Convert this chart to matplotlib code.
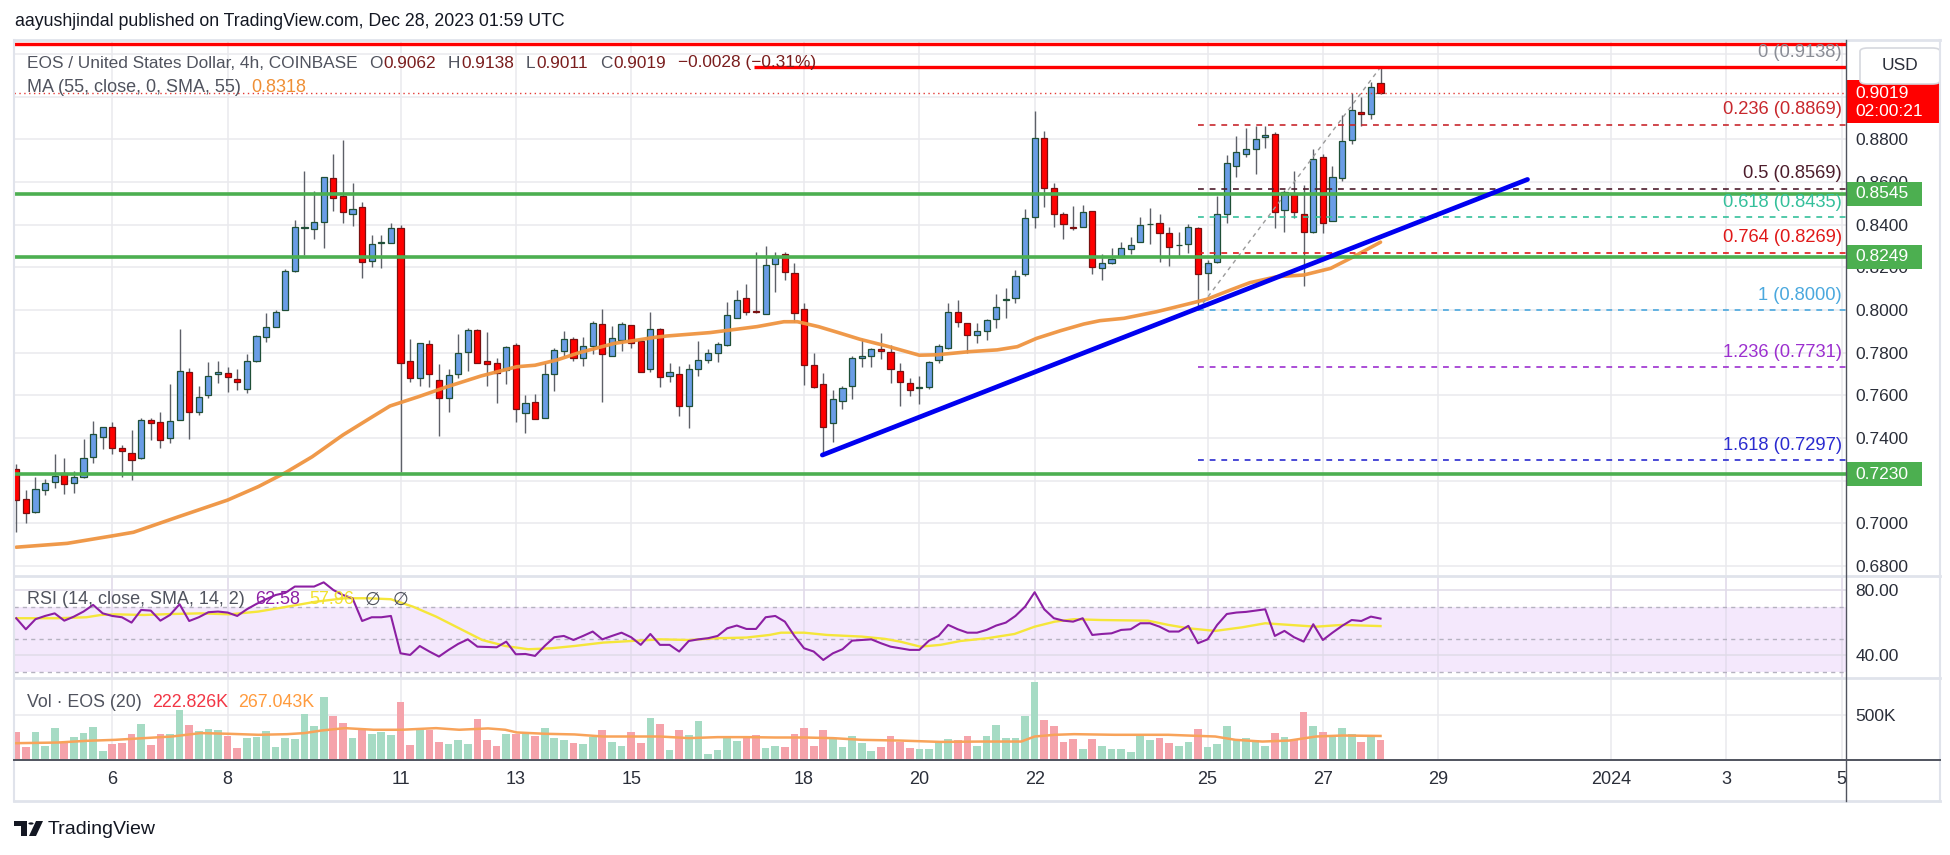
import matplotlib
matplotlib.use('Agg')
import matplotlib.pyplot as plt
import matplotlib.transforms as mtransforms
from matplotlib.patches import Rectangle, FancyBboxPatch, Polygon, Circle
from matplotlib.lines import Line2D
import numpy as np

plt.rcParams['font.family'] = ['Liberation Sans', 'DejaVu Sans']

# ---------------- data (4h candles, Dec 4 08:00 -> Dec 28 00:00) ----------------
opens = [0.7253,0.7113,0.7052,0.7156,0.7192,0.7238,0.7187,0.7216,0.7309,0.7406,
         0.7450,0.7352,0.7328,0.7305,0.7484,0.7473,0.7402,0.7484,0.7708,0.7520,
         0.7600,0.7698,0.7703,0.7675,0.7628,0.7763,0.7872,0.7919,0.8000,0.8183,
         0.8385,0.8378,0.8414,0.8617,0.8536,0.8448,0.8481,0.8231,0.8314,0.8313,
         0.8383,0.7763,0.7680,0.7839,0.7670,0.7586,0.7698,0.7802,0.7905,0.7759,
         0.7750,0.7719,0.7834,0.7516,0.7567,0.7492,0.7698,0.7809,0.7862,0.7773,
         0.7830,0.7933,0.7783,0.7858,0.7928,0.7853,0.7722,0.7909,0.7689,0.7698,
         0.7548,0.7725,0.7764,0.7797,0.7838,0.7961,0.8055,0.7992,0.7980,0.8214,
         0.8261,0.8172,0.8003,0.7741,0.7652,0.7469,0.7573,0.7644,0.7773,0.7786,
         0.7815,0.7802,0.7713,0.7656,0.7633,0.7637,0.7766,0.7820,0.7992,0.7941,
         0.7881,0.7900,0.7956,0.8047,0.8055,0.8167,0.8434,0.8805,0.8570,0.8448,
         0.8386,0.8391,0.8463,0.8195,0.8219,0.8250,0.8284,0.8317,0.8401,0.8409,
         0.8359,0.8303,0.8308,0.8383,0.8172,0.8227,0.8448,0.8677,0.8730,0.8753,
         0.8809,0.8823,0.8469,0.8550,0.8448,0.8367,0.8719,0.8416,0.8617,0.8795,
         0.8928,0.8917,0.9062]
highs = [0.7278,0.7156,0.7219,0.7206,0.7323,0.7305,0.7244,0.7395,0.7480,0.7452,
         0.7473,0.7366,0.7438,0.7492,0.7492,0.7522,0.7653,0.7911,0.7727,0.7644,
         0.7755,0.7761,0.7734,0.7723,0.7794,0.7881,0.7984,0.8000,0.8191,0.8422,
         0.8652,0.8558,0.8625,0.8731,0.8797,0.8594,0.8505,0.8352,0.8352,0.8406,
         0.8398,0.7864,0.7844,0.7859,0.7747,0.7722,0.7888,0.7917,0.7909,0.7895,
         0.7773,0.7833,0.7844,0.7602,0.7606,0.7750,0.7823,0.7902,0.7875,0.7875,
         0.7950,0.8005,0.7925,0.7945,0.7928,0.7853,0.7989,0.7917,0.7750,0.7738,
         0.7747,0.7855,0.7817,0.7848,0.8036,0.8094,0.8122,0.8273,0.8300,0.8273,
         0.8273,0.8222,0.8034,0.7800,0.7703,0.7625,0.7644,0.7786,0.7864,0.7823,
         0.7891,0.7836,0.7750,0.7680,0.7691,0.7761,0.7839,0.8031,0.8047,0.7941,
         0.7938,0.7958,0.8073,0.8102,0.8188,0.8472,0.8933,0.8839,0.8594,0.8458,
         0.8489,0.8492,0.8463,0.8262,0.8289,0.8317,0.8341,0.8434,0.8477,0.8448,
         0.8388,0.8364,0.8403,0.8388,0.8234,0.8536,0.8727,0.8816,0.8852,0.8864,
         0.8863,0.8836,0.8563,0.8652,0.8586,0.8753,0.8731,0.8675,0.8914,0.9016,
         0.9000,0.9070,0.9138]
lows = [0.6960,0.7003,0.7050,0.7131,0.7164,0.7136,0.7141,0.7213,0.7284,0.7347,
        0.7323,0.7219,0.7203,0.7303,0.7391,0.7355,0.7375,0.7484,0.7394,0.7508,
        0.7589,0.7659,0.7617,0.7625,0.7609,0.7755,0.7852,0.7919,0.8000,0.8180,
        0.8259,0.8333,0.8292,0.8464,0.8409,0.8395,0.8152,0.8203,0.8198,0.8313,
        0.7242,0.7664,0.7645,0.7641,0.7411,0.7523,0.7683,0.7714,0.7750,0.7645,
        0.7566,0.7652,0.7473,0.7422,0.7488,0.7492,0.7622,0.7784,0.7763,0.7739,
        0.7792,0.7567,0.7783,0.7809,0.7820,0.7711,0.7711,0.7638,0.7664,0.7505,
        0.7448,0.7692,0.7752,0.7755,0.7833,0.7961,0.7977,0.7984,0.7980,0.8083,
        0.8141,0.7945,0.7650,0.7633,0.7320,0.7383,0.7536,0.7581,0.7731,0.7733,
        0.7769,0.7656,0.7548,0.7598,0.7558,0.7628,0.7750,0.7816,0.7922,0.7797,
        0.7847,0.7859,0.7917,0.7961,0.8031,0.8161,0.8386,0.8484,0.8391,0.8333,
        0.8375,0.8391,0.8167,0.8141,0.8216,0.8250,0.8263,0.8317,0.8309,0.8227,
        0.8208,0.8255,0.8269,0.8000,0.8094,0.8219,0.8406,0.8622,0.8719,0.8638,
        0.8758,0.8386,0.8367,0.8430,0.8114,0.8359,0.8363,0.8416,0.8606,0.8778,
        0.8863,0.8895,0.9011]
closes = [0.7109,0.7047,0.7159,0.7188,0.7222,0.7183,0.7216,0.7305,0.7417,0.7450,
          0.7352,0.7338,0.7295,0.7484,0.7472,0.7389,0.7478,0.7713,0.7523,0.7594,
          0.7689,0.7708,0.7688,0.7664,0.7763,0.7877,0.7922,0.7992,0.8181,0.8388,
          0.8388,0.8411,0.8622,0.8523,0.8461,0.8472,0.8227,0.8308,0.8318,0.8383,
          0.7750,0.7680,0.7844,0.7698,0.7586,0.7695,0.7797,0.7905,0.7750,0.7745,
          0.7703,0.7825,0.7534,0.7563,0.7488,0.7698,0.7811,0.7862,0.7773,0.7830,
          0.7938,0.7792,0.7867,0.7933,0.7847,0.7711,0.7909,0.7688,0.7708,0.7548,
          0.7722,0.7764,0.7797,0.7839,0.7975,0.8047,0.7992,0.7990,0.8209,0.8255,
          0.8177,0.7984,0.7741,0.7641,0.7453,0.7581,0.7633,0.7773,0.7784,0.7816,
          0.7810,0.7722,0.7661,0.7623,0.7634,0.7755,0.7830,0.7989,0.7942,0.7881,
          0.7900,0.7952,0.8016,0.8052,0.8161,0.8433,0.8805,0.8570,0.8448,0.8402,
          0.8385,0.8461,0.8203,0.8219,0.8239,0.8289,0.8305,0.8397,0.8403,0.8359,
          0.8294,0.8305,0.8391,0.8167,0.8219,0.8448,0.8688,0.8739,0.8753,0.8800,
          0.8819,0.8458,0.8555,0.8458,0.8364,0.8706,0.8409,0.8625,0.8792,0.8936,
          0.8917,0.9044,0.9019]

# SMA 55 (candle index, value)
ma_idx = [0, 5.3, 10, 12.2, 16.9, 22, 25.2, 28, 30.8, 34, 36.8, 38.9, 41.9, 44.7, 48.4,
          52.1, 54, 56.3, 58.6, 62.3, 64.2, 66.5, 67.7, 72.2, 77.1, 79.9, 81.3, 83.5,
          85.5, 87.8, 90.6, 94, 95.8, 99.3, 102.1, 104.2, 106.2, 108.7, 111.1, 112.8,
          115.3, 118.7, 121.5, 123.9, 126.4, 128.4, 131.2, 134, 136.8, 139.2, 142]
ma_val = [0.6888, 0.6906, 0.6941, 0.6958, 0.7031, 0.7109, 0.7172, 0.7237, 0.7312, 0.7414,
          0.7492, 0.7550, 0.7594, 0.7638, 0.7691, 0.7734, 0.7741, 0.7766, 0.7800, 0.7844,
          0.7856, 0.7872, 0.7878, 0.7894, 0.7922, 0.7945, 0.7945, 0.7922, 0.7895, 0.7863,
          0.7831, 0.7788, 0.7790, 0.7805, 0.7813, 0.7828, 0.7867, 0.7903, 0.7934, 0.7950,
          0.7961, 0.7992, 0.8023, 0.8050, 0.8094, 0.8128, 0.8156, 0.8164, 0.8195, 0.8250,
          0.8318]

rsi = [62.8,56.0,62.2,64.2,65.8,61.3,63.8,66.9,71.0,65.8,
       64.2,63.4,60.1,67.9,67.5,61.3,64.8,71.4,61.1,63.4,
       66.5,66.9,66.3,64.2,68.3,71.6,74.5,77.1,78.4,82.3,
       82.3,82.3,84.9,80.2,77.1,75.1,61.1,63.4,63.4,64.2,
       41.2,40.2,45.7,42.3,39.2,43.3,47.0,49.8,45.3,45.1,
       44.9,48.4,40.6,40.8,39.6,45.7,51.1,51.9,49.4,51.9,
       54.6,49.8,51.9,53.9,51.1,46.4,53.1,46.4,46.4,42.3,
       48.8,49.8,50.5,51.9,56.6,58.3,56.2,56.2,63.4,64.2,
       60.7,51.9,44.3,42.3,37.1,41.2,43.7,49.0,49.4,49.8,
       47.4,45.3,44.3,43.3,43.3,49.0,51.9,58.7,56.0,53.9,
       53.9,55.6,58.3,60.1,64.2,69.9,78.8,68.3,62.8,61.3,
       60.7,62.8,52.5,53.1,53.5,55.6,56.0,59.7,59.7,57.6,
       54.6,54.6,58.1,47.4,49.8,58.7,65.4,66.3,66.7,67.5,
       68.3,51.9,55.0,51.1,48.4,59.1,49.4,53.9,58.1,61.7,
       61.1,63.8,62.58]
rsi_sma_idx = [0, 4.3, 7.3, 8.8, 10.3, 13.3, 16.2, 19.2, 22.2, 25.2, 28.2, 31.2, 34.2, 36.6,
               39.0, 41.3, 43.7, 46.1, 48.5, 50.9, 53.3, 55.7, 58.1, 61.1, 64.1, 67.1, 70.0,
               73.0, 76.0, 78.4, 79.6, 82.0, 84.4, 88.0, 90.4, 92.0, 94.1, 96.2, 98.3, 101.1,
               103.9, 106.0, 108.1, 110.1, 112.9, 117.8, 119.9, 122.0, 124.8, 127.6, 130.0,
               132.5, 135.3, 138.0, 142.0]
rsi_sma_val = [62.8, 62.8, 63.4, 64.8, 65.2, 64.8, 65.4, 65.8, 65.2, 66.9, 69.9, 73.0, 75.1, 75.1,
               74.5, 69.9, 63.8, 56.6, 49.4, 45.7, 43.7, 44.3, 45.7, 47.8, 48.8, 49.8, 49.4,
               50.5, 50.9, 52.5, 53.9, 53.9, 52.5, 51.5, 50.1, 48.4, 45.3, 46.4, 48.8, 50.5,
               53.1, 57.6, 60.7, 62.2, 61.7, 61.3, 58.7, 56.6, 55.0, 57.2, 59.7,
               58.7, 57.6, 58.7, 57.96]

volume_k = [313,146,313,157,358,194,257,302,369,101,
            183,194,291,403,168,291,291,556,392,325,
            347,336,269,134,246,257,321,146,246,235,
            515,381,705,493,414,246,340,291,313,280,
            646,168,336,336,201,179,224,179,459,224,
            157,291,291,302,269,358,246,224,190,179,
            250,336,201,157,313,190,470,403,112,336,
            280,437,67,112,269,213,246,280,134,157,
            146,291,358,157,336,246,146,269,190,101,
            146,269,205,138,123,123,194,235,224,269,
            157,269,392,246,246,485,862,448,381,201,
            235,123,235,157,123,123,90,272,224,246,
            190,157,201,347,146,179,381,235,246,224,
            157,302,257,224,537,381,313,269,358,291,
            201,269,223]
vol_ma_idx = [0, 4.3, 7.3, 10.3, 13.3, 16.2, 19.2, 22.2, 25.2, 28.2, 30.0, 31.8, 34.2, 37.2,
              40.1, 43.7, 46.1, 49.1, 50.9, 52.1, 55.1, 58.1, 61.1, 64.1, 67.0, 70.0, 73.0,
              76.0, 79.0, 82.0, 85.0, 88.0, 92.0, 96.2, 100.4, 104.6, 106.0, 108.1, 110.1,
              114.3, 119.9, 122.7, 124.8, 126.9, 129.7, 132.5, 135.3, 138.0, 142.0]
vol_ma_k = [187, 194, 213, 224, 243, 261, 299, 291, 280, 287, 299, 328, 354, 336,
            336, 354, 336, 351, 336, 306, 291, 284, 261, 261, 261, 243, 254,
            254, 250, 250, 243, 224, 216, 201, 205, 205, 261, 280, 287,
            280, 280, 269, 261, 224, 205, 216, 261, 272, 267]

tick_labels = ['6', '8', '11', '13', '15', '18', '20', '22', '25', '27', '29', '2024', '3', '5']
tick_days = [6, 8, 11, 13, 15, 18, 20, 22, 25, 27, 29, 32, 34, 36]   # days counted from Dec 1

price_ticks = [0.68, 0.70, 0.72, 0.74, 0.76, 0.78, 0.80, 0.82, 0.84, 0.86, 0.88, 0.90, 0.92]
hidden_price_labels = [0.72, 0.90, 0.92]   # covered by the tag boxes in the original

support_levels = [0.8545, 0.8249, 0.7230]
fib_ratios = ['0', '0.236', '0.5', '0.618', '0.764', '1', '1.236', '1.618']
fib_prices = [0.9138, 0.8869, 0.8569, 0.8435, 0.8269, 0.8000, 0.7731, 0.7297]
fib_colors = ['#8a8d96', '#c8282d', '#4d1d2c', '#35c09b', '#e01818', '#4aa8de', '#9c30cf', '#2b2bd0']
fib_start = 123
fib_anchor_idx = [123, 142]
fib_anchor_px = [0.8000, 0.9138]
trend_idx = [83.9, 157.3]
trend_px = [0.7320, 0.8612]
red_levels = [0.9247, 0.9138]
red_starts = [-0.3, 76.8]

# ---------------- layout ----------------
W, H = 1950, 855
fig = plt.figure(figsize=(W / 100, H / 100), dpi=100)
fig.patch.set_facecolor('white')

def fx(p):
    return p / W

def fy(p):
    return 1 - p / H

L, R = 14, 1846
T_MAIN, B_MAIN, B_RSI, B_VOL = 41, 576, 678, 760
ax = fig.add_axes([fx(L), fy(B_MAIN), (R - L) / W, (B_MAIN - T_MAIN) / H])
ax_r = fig.add_axes([fx(L), fy(B_RSI), (R - L) / W, (B_RSI - B_MAIN) / H])
ax_v = fig.add_axes([fx(L), fy(B_VOL), (R - L) / W, (B_VOL - B_RSI) / H])

XMIN, XMAX = -0.234, 190.45
grid_c = '#e9e9ee'
txt_c = '#2a2e39'
grey_c = '#50535e'

idx = np.arange(len(closes))
o = np.array(opens); c = np.array(closes); h = np.array(highs); lo = np.array(lows)
up = c >= o
tick_idx = [10 + 6 * (d - 6) for d in tick_days]

for a in (ax, ax_r, ax_v):
    a.set_xlim(XMIN, XMAX)
    for s in a.spines.values():
        s.set_visible(False)
    a.set_xticks([])
    a.yaxis.tick_right()
    a.tick_params(axis='y', length=0, pad=7, labelsize=12.5, labelcolor=txt_c)
    for t in tick_idx:
        a.axvline(t, color=grid_c, lw=1.1, zorder=0)

# ---------------- main pane ----------------
ax.set_ylim(0.6753, 0.9261)
ax.set_yticks(price_ticks)
ax.set_yticklabels(['' if any(abs(p - q) < 1e-9 for q in hidden_price_labels) else f'{p:.4f}'
                    for p in price_ticks])
for p in price_ticks:
    ax.axhline(p, color=grid_c, lw=1.1, zorder=0)

# candles
ax.vlines(idx, lo, h, color='#5d6068', lw=1.0, zorder=3)
body_lo = np.minimum(o, c)
body_h = np.maximum(np.abs(c - o), 0.0004)
ax.bar(idx[up], body_h[up], bottom=body_lo[up], width=0.64, color='#6a9de6',
       edgecolor='#1f4f37', linewidth=0.9, zorder=4)
ax.bar(idx[~up], body_h[~up], bottom=body_lo[~up], width=0.64, color='#ff0000',
       edgecolor='#7a1010', linewidth=0.9, zorder=4)

# MA 55
ax.plot(ma_idx, ma_val, color='#ef9440', lw=2.6, alpha=0.95, zorder=5, solid_capstyle='round')

# fib levels
fib_tr = mtransforms.blended_transform_factory(ax.transAxes, ax.transData)
for r, p, col in zip(fib_ratios, fib_prices, fib_colors):
    ax.plot([fib_start, XMAX], [p, p], color=col, lw=1.2, ls=(0, (3.5, 3.5)), zorder=5)
    ax.text(0.9978, p + 0.0069, f'{r} ({p:.4f})', transform=fib_tr, ha='right', va='center',
            fontsize=13.2, color=col, zorder=9)
ax.plot(fib_anchor_idx, fib_anchor_px, color='#9a9a9a', lw=1.0, ls=(0, (3, 3)), zorder=5)

# horizontal support / resistance
for p in support_levels:
    ax.axhline(p, color='#4caf50', lw=2.6, zorder=6)
for p, s in zip(red_levels, red_starts):
    ax.plot([s, XMAX], [p, p], color='#ff0000', lw=2.4, zorder=6, solid_capstyle='butt')
# last price dotted line
ax.axhline(closes[-1], color='#e53935', lw=1.0, ls=(0, (1, 2.5)), zorder=5)

# trend line
ax.plot(trend_idx, trend_px, color='#0000f0', lw=3.4, zorder=7, solid_capstyle='round')

# price boxes
def price_box(price, text, fc, x1=1922, hpx=24):
    y0 = price - hpx / 2 / 2133.5
    rect = Rectangle((1.0005, y0), (x1 - R) / (R - L) - 0.0005, hpx / 2133.5, transform=fib_tr,
                     facecolor=fc, edgecolor='none', clip_on=False, zorder=20)
    ax.add_patch(rect)
    ax.text((1855 - L) / (R - L), price, text, transform=fib_tr, ha='left', va='center',
            fontsize=12.5, color='white', clip_on=False, zorder=21)

for p in support_levels:
    price_box(p, f'{p:.4f}', '#4caf50')

# red last price box with countdown
rect = Rectangle((1.0005, 0.8876), (1938 - R) / (R - L), 0.9078 - 0.8876, transform=fib_tr,
                 facecolor='#ff0000', edgecolor='none', clip_on=False, zorder=20)
ax.add_patch(rect)
ax.text((1855 - L) / (R - L), 0.9017, f'{closes[-1]:.4f}', transform=fib_tr, ha='left',
        va='center', fontsize=12.5, color='white', clip_on=False, zorder=21)
ax.text((1855 - L) / (R - L), 0.8929, '02:00:21', transform=fib_tr, ha='left',
        va='center', fontsize=12.5, color='white', clip_on=False, zorder=21)

# USD box
usd = FancyBboxPatch((fx(1860), fy(84)), fx(1940) - fx(1860), fy(48) - fy(84),
                     boxstyle='round,pad=0,rounding_size=0.004', transform=fig.transFigure,
                     facecolor='white', edgecolor='#d6d8de', lw=1.2, zorder=30)
fig.patches.append(usd)
fig.text(fx(1900), fy(66), 'USD', ha='center', va='center', fontsize=12.5, color=txt_c, zorder=31)

# ---------------- RSI pane ----------------
ax_r.set_ylim(26.0, 88.8)
ax_r.axhspan(30, 70, color='#f4e8fc', zorder=0, lw=0)
for t in tick_idx:
    ax_r.axvline(t, color='#e4dced', lw=1.1, zorder=0.5)
for lvl in (40, 80):
    ax_r.axhline(lvl, color='#e0dbe8', lw=1.1, zorder=0.6)
for lvl in (30, 50, 70):
    ax_r.axhline(lvl, color='#b5b2c0', lw=1.0, ls=(0, (3, 3)), zorder=0.7)
ax_r.plot(rsi_sma_idx, rsi_sma_val, color='#f5e63a', lw=1.7, zorder=2)
ax_r.plot(idx, rsi, color='#8c1fa3', lw=1.5, zorder=3)
ax_r.set_yticks([40, 80])
ax_r.set_yticklabels(['40.00', '80.00'])

# ---------------- Volume pane ----------------
ax_v.set_ylim(0, 911)
ax_v.axhline(500, color=grid_c, lw=1.1, zorder=0)
vcols = np.where(up, '#a6dbc4', '#f5a3ab')
ax_v.bar(idx, volume_k, width=0.8, color=vcols, zorder=2)
ax_v.plot(vol_ma_idx, vol_ma_k, color='#f8a35a', lw=1.8, zorder=3)
ax_v.set_yticks([500])
ax_v.set_yticklabels(['500K'])

xtr = mtransforms.blended_transform_factory(ax_v.transData, ax_v.transAxes)
for lab, t in zip(tick_labels, tick_idx):
    ax_v.text(t, -20 / (B_VOL - B_RSI), lab, transform=xtr, ha='center', va='center',
              fontsize=13, color=txt_c, clip_on=False)

# ---------------- frame lines ----------------
RF = 1940
def fline(x0, y0, x1, y1, col, lw, z=40):
    fig.lines.append(Line2D([fx(x0), fx(x1)], [fy(y0), fy(y1)], transform=fig.transFigure,
                            color=col, lw=lw, zorder=z))

fig.patches.append(Rectangle((fx(R + 1), fy(799)), fx(RF) - fx(R + 1), fy(762) - fy(799),
                             transform=fig.transFigure, facecolor='white', edgecolor='none', zorder=35))
fline(L, T_MAIN - 1, RF, T_MAIN - 1, '#e0e3eb', 2.0)
fline(L, B_MAIN, RF, B_MAIN, '#e0e3eb', 2.0)
fline(L, B_RSI, RF, B_RSI, '#e0e3eb', 2.0)
fline(L, 801, RF, 801, '#e0e3eb', 2.0)
fline(L, T_MAIN - 1, L, 801, '#e0e3eb', 1.5)
fline(RF, T_MAIN - 1, RF, 801, '#e0e3eb', 1.5)
fline(L, B_VOL, RF, B_VOL, '#50535e', 1.4)
fline(R, T_MAIN - 1, R, 801, '#50535e', 1.0)

# ---------------- texts ----------------
fig.text(fx(15), fy(21), 'aayushjindal published on TradingView.com, Dec 28, 2023 01:59 UTC',
         fontsize=12.8, color='#131722', va='center', ha='left')

renderer = fig.canvas.get_renderer()
def seq(x, y, parts, size=12):
    for s, col, gap in parts:
        t = fig.text(fx(x), fy(y), s, color=col, fontsize=size, va='center', ha='left', zorder=50,
                     family=['Liberation Sans', 'DejaVu Sans'])
        bb = t.get_window_extent(renderer=renderer)
        x = bb.x1 + gap

dred = '#7a1d1d'
seq(27, 63, [('EOS / United States Dollar, 4h, COINBASE', grey_c, 11), ('O', grey_c, 1),
             ('0.9062', dred, 12), ('H', grey_c, 1), ('0.9138', dred, 12), ('L', grey_c, 1),
             ('0.9011', dred, 12), ('C', grey_c, 1), ('0.9019', dred, 12),
             ('\u22120.0028 (\u22120.31%)', dred, 0)], size=12.4)
seq(27, 87, [('MA (55, close, 0, SMA, 55)', grey_c, 10), ('0.8318', '#ef8f35', 0)], size=13)
seq(27, 600, [('RSI (14, close, SMA, 14, 2)', grey_c, 10), ('62.58', '#8c1fa3', 10),
              ('57.96', '#f2e130', 10), ('\u2205', grey_c, 12), ('\u2205', grey_c, 0)], size=13)
seq(27, 702, [('Vol \u00b7 EOS (20)', grey_c, 10), ('222.826K', '#f23645', 10),
              ('267.043K', '#ff9b3d', 0)], size=12.8)

# TradingView logo
fig.patches.append(Polygon([(fx(14), fy(821)), (fx(27), fy(821)), (fx(27), fy(836)), (fx(21), fy(836)),
                            (fx(21), fy(826)), (fx(14), fy(826))], closed=True, transform=fig.transFigure,
                           facecolor='#131722', edgecolor='none', zorder=40))
fig.patches.append(Circle((fx(31), fy(823.5)), 2.6 / W, transform=fig.transFigure,
                          facecolor='#131722', edgecolor='none', zorder=40))
fig.patches.append(Polygon([(fx(36), fy(821)), (fx(43), fy(821)), (fx(36), fy(836)), (fx(29), fy(836))],
                           closed=True, transform=fig.transFigure, facecolor='#131722',
                           edgecolor='none', zorder=40))
fig.text(fx(48), fy(829), 'TradingView', fontsize=14, color='#131722', va='center', ha='left')

fig.savefig('out.png', dpi=100, facecolor='white')
